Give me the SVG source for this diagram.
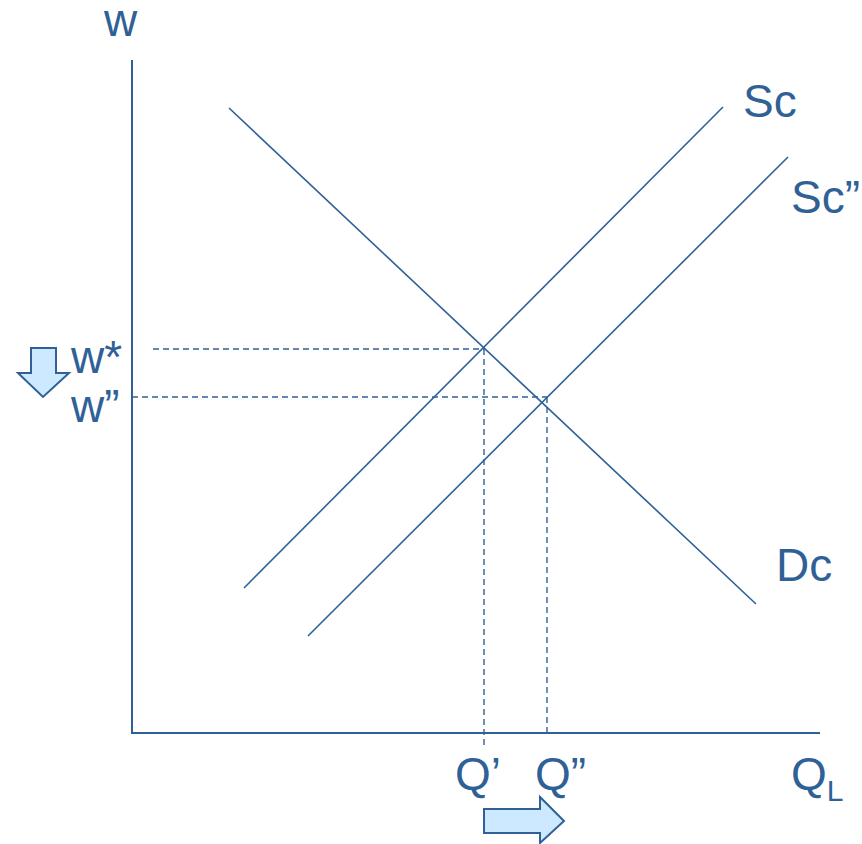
<svg xmlns="http://www.w3.org/2000/svg" width="862" height="844" viewBox="0 0 862 844">
<style>
.ax{stroke:#2f6196;stroke-width:2;fill:none}
.cv{stroke:#2f6196;stroke-width:1.6;fill:none}
.dash{stroke:#2f6196;stroke-width:1.4;stroke-dasharray:6,4;fill:none}
.lbl{font-family:"Liberation Sans",Arial,sans-serif;font-size:46px;fill:#2f6196}
.arr{fill:#cce9ff;stroke:#2f6196;stroke-width:2}
</style>
<rect width="862" height="844" fill="#fff"/>
<g id="connectors">
<line class="ax" x1="132" y1="60" x2="132" y2="734"/>
<line class="ax" x1="131" y1="733" x2="820" y2="733"/>
<line class="cv" x1="229" y1="108" x2="756" y2="604"/>
<line class="cv" x1="244" y1="588" x2="723" y2="107"/>
<line class="cv" x1="308" y1="636" x2="788" y2="157"/>
<line class="dash" x1="153" y1="349" x2="484" y2="349"/>
<line class="dash" x1="484" y1="349" x2="484" y2="748"/>
<line class="dash" x1="132" y1="397" x2="547" y2="397"/>
<line class="dash" x1="547" y1="397" x2="547" y2="733"/>
</g>
<g id="axis-w"><text class="lbl" x="104" y="36">w</text></g>
<g id="label-Sc"><text class="lbl" x="743" y="117">Sc</text></g>
<g id="label-Sc2"><text class="lbl" x="791" y="213">Sc”</text></g>
<g id="label-Dc"><text class="lbl" x="776" y="581">Dc</text></g>
<g id="label-wstar"><text class="lbl" x="71" y="373">w*</text></g>
<g id="label-w2"><text class="lbl" x="71" y="422">w”</text></g>
<g id="label-Q1"><text class="lbl" x="455" y="790">Q’</text></g>
<g id="label-Q2"><text class="lbl" x="535" y="790">Q”</text></g>
<g id="axis-QL"><text class="lbl" x="791" y="790">Q<tspan font-size="30" dy="11">L</tspan></text></g>
<g id="arrow-down"><path class="arr" d="M31,348 H56 V373 H69 L43,397 L18,373 H31 Z"/></g>
<g id="arrow-right"><path class="arr" d="M484,809 H540 V797 L564,821 L540,843 V833 H484 Z"/></g>
</svg>
